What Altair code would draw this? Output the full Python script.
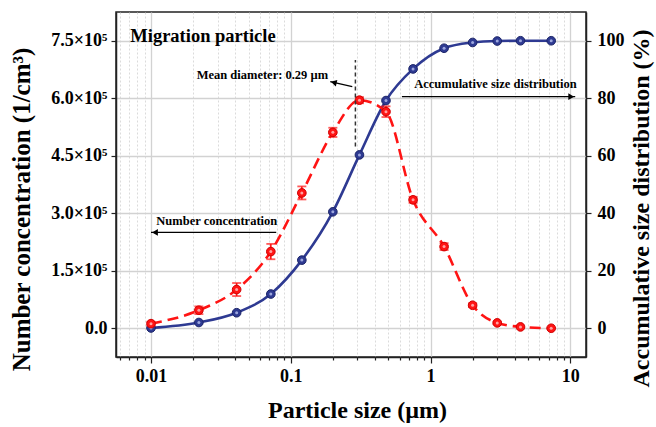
import altair as alt
import pandas as pd

# Particle size bins (µm)
size_um = [0.01, 0.022, 0.041, 0.072, 0.12, 0.20, 0.31, 0.48, 0.75, 1.25, 2.0, 3.0, 4.4, 7.3]
# Number concentration (1/cm^3) and its error
number_conc = [12000, 47000, 101000, 200000, 353000, 511000, 595000, 565000, 335000, 213000, 60000, 14000, 3500, 0]
number_err = [5000, 10000, 17000, 20000, 17000, 12000, 8000, 14000, 8000, 9000, 5000, 3000, 0, 0]
# Accumulative size distribution (%)
cumulative = [0.1, 2.0, 5.4, 11.9, 23.7, 40.5, 60.3, 79.2, 90.2, 97.4, 99.4, 99.9, 100.0, 100.0]

mean_diameter = 0.29

FONT = "Liberation Serif"
RED = "#ff1414"
NAVY = "#2e3a92"

df = pd.DataFrame({
    "size": size_um,
    "conc": number_conc,
    "lo": [c - e for c, e in zip(number_conc, number_err)],
    "hi": [c + e for c, e in zip(number_conc, number_err)],
    "cum": cumulative,
})

x_minor = [m * 10.0 ** e for e in range(-3, 2) for m in range(1, 10)]
x_minor = [v for v in x_minor if 0.0056 <= v <= 12.9]
x_minor = [float(f"{v:.6g}") for v in x_minor]

xs = alt.Scale(type="log", domain=[0.005618, 12.95], nice=False)
yl = alt.Scale(domain=[-75000, 825000], nice=False, zero=False)
yr = alt.Scale(domain=[-10, 110], nice=False, zero=False)

is_decade = "abs(log(datum.value)/LN10 - round(log(datum.value)/LN10)) < 0.001"
is_major_l = "datum.value % 150000 == 0"
is_major_r = "datum.value % 20 == 0"

x_axis = alt.Axis(
    values=x_minor,
    labelExpr=f"{is_decade} ? format(datum.value, '~g') : ''",
    grid=True,
    gridColor="#d2d2d2",
    gridWidth={"condition": {"test": is_decade, "value": 1.3}, "value": 0.8},
    gridDash={"condition": {"test": is_decade, "value": [1, 0]}, "value": [2, 2]},
    tickSize={"condition": {"test": is_decade, "value": 6}, "value": 3},
    tickColor="#222", tickWidth=1.2,
    domainColor="#222", domainWidth=1.5,
    labelFont=FONT, labelFontSize=18, labelFontWeight="bold", labelColor="black",
    labelPadding=4, labelFlush=False,
    title="Particle size (µm)",
    titleFont=FONT, titleFontSize=24, titleFontWeight="bold", titleColor="black",
    titleX=241, titleY=53, titleAlign="center", titleBaseline="middle",
)

yl_axis = alt.Axis(
    values=list(range(0, 750001, 75000)),
    labelExpr=f"datum.value == 0 ? '0.0' : ({is_major_l} ? format(datum.value/1e5, '.1f') + '×10⁵' : '')",
    grid=True,
    gridColor="#d2d2d2",
    gridWidth={"condition": {"test": is_major_l, "value": 1.3}, "value": 0.8},
    gridDash={"condition": {"test": is_major_l, "value": [1, 0]}, "value": [2, 2]},
    tickSize={"condition": {"test": is_major_l, "value": 5}, "value": 3},
    tickColor="#222", tickWidth=1.2,
    domainColor="#222", domainWidth=1.5,
    labelFont=FONT, labelFontSize=18, labelFontWeight="bold", labelColor="black",
    labelPadding=4,
    title="Number concentration (1/cm³)",
    titleFont=FONT, titleFontSize=25, titleFontWeight="bold", titleColor="black",
    titleX=-95, titleY=197, titleAngle=270, titleAlign="center", titleBaseline="middle",
)

yr_axis = alt.Axis(
    orient="right",
    values=list(range(0, 101, 10)),
    labelExpr=f"{is_major_r} ? format(datum.value, 'd') : ''",
    grid=False,
    tickSize={"condition": {"test": is_major_r, "value": 5}, "value": 3},
    tickColor="#222", tickWidth=1.2,
    domainColor="#222", domainWidth=1.5,
    labelFont=FONT, labelFontSize=18, labelFontWeight="bold", labelColor="black",
    labelPadding=6,
    title="Accumulative size distribution (%)",
    titleFont=FONT, titleFontSize=24, titleFontWeight="bold", titleColor="black",
    titleX=55, titleY=196, titleAngle=270, titleAlign="center", titleBaseline="middle",
)

base = alt.Chart(df)

# ---- cumulative distribution (right axis) ----
cum_line = base.mark_line(color=NAVY, strokeWidth=2.6, interpolate="monotone").encode(
    x=alt.X("size:Q", scale=xs, axis=x_axis),
    y=alt.Y("cum:Q", scale=yr, axis=yr_axis),
)
cum_pts = base.mark_point(filled=True, shape="circle", size=75, color=NAVY,
                          stroke="#1b2468", strokeWidth=1, opacity=1).encode(
    x=alt.X("size:Q", scale=xs), y=alt.Y("cum:Q", scale=yr))
cum_glint = base.mark_point(filled=True, shape="circle", size=9, color="#a9b3e6", opacity=0.9).encode(
    x=alt.X("size:Q", scale=xs), y=alt.Y("cum:Q", scale=yr))
right = alt.layer(cum_line, cum_pts, cum_glint)

# ---- number concentration (left axis) ----
conc_line = base.mark_line(color=RED, strokeWidth=2.6, strokeDash=[11, 6], interpolate="monotone").encode(
    x=alt.X("size:Q", scale=xs),
    y=alt.Y("conc:Q", scale=yl, axis=yl_axis),
)
err_df = df[df["hi"] > df["lo"]]
err_rule = alt.Chart(err_df).mark_rule(color=RED, strokeWidth=1.6).encode(
    x=alt.X("size:Q", scale=xs), y=alt.Y("lo:Q", scale=yl), y2="hi:Q")
err_cap_hi = alt.Chart(err_df).mark_tick(color=RED, orient="horizontal", size=9, thickness=1.8).encode(
    x=alt.X("size:Q", scale=xs), y=alt.Y("hi:Q", scale=yl))
err_cap_lo = alt.Chart(err_df).mark_tick(color=RED, orient="horizontal", size=9, thickness=1.8).encode(
    x=alt.X("size:Q", scale=xs), y=alt.Y("lo:Q", scale=yl))
conc_pts = base.mark_point(filled=True, shape="circle", size=75, color=RED,
                           stroke="#d00000", strokeWidth=1, opacity=1).encode(
    x=alt.X("size:Q", scale=xs), y=alt.Y("conc:Q", scale=yl))
conc_glint = base.mark_point(filled=True, shape="circle", size=9, color="#ffb0b0", opacity=0.9).encode(
    x=alt.X("size:Q", scale=xs), y=alt.Y("conc:Q", scale=yl))

# ---- annotations (placed in data units on the left scale) ----
mean_line = alt.Chart(pd.DataFrame({"x": [mean_diameter], "y": [474000], "y2": [700000]})).mark_rule(
    color="#333", strokeWidth=1.5, strokeDash=[4, 3]).encode(
    x=alt.X("x:Q", scale=xs), y=alt.Y("y:Q", scale=yl), y2="y2:Q")

labels_df = pd.DataFrame({
    "x": [0.00711, 0.185, 0.764, 0.01091],
    "y": [763000, 661000, 638000, 278600],
    "text": ["Migration particle", "Mean diameter: 0.29 µm", "Accumulative size distribution", "Number concentration"],
    "fs": [18.5, 12.5, 12.5, 12.5],
    "align": ["left", "right", "left", "left"],
})
texts = []
for _, r in labels_df.iterrows():
    texts.append(
        alt.Chart(pd.DataFrame([r])).mark_text(
            font=FONT, fontWeight="bold", fontSize=float(r["fs"]), color="black",
            align=r["align"], baseline="middle",
        ).encode(x=alt.X("x:Q", scale=xs), y=alt.Y("y:Q", scale=yl), text="text:N")
    )

arrows_df = pd.DataFrame({
    "x": [0.2754, 0.624, 0.0787],
    "x2": [0.1916, 10.84, 0.0100],
    "y": [630200, 604000, 250000],
    "y2": [643200, 604000, 250000],
})
arrow_shafts = alt.Chart(arrows_df).mark_rule(color="black", strokeWidth=1.3).encode(
    x=alt.X("x:Q", scale=xs), x2="x2:Q", y=alt.Y("y:Q", scale=yl), y2="y2:Q")

heads_df = pd.DataFrame({
    "x": [0.203, 10.15, 0.01068],
    "y": [641100, 604000, 250000],
    "shape": ["triangle-left", "triangle-right", "triangle-left"],
    "angle": [13, 0, 0],
})
arrow_heads = alt.Chart(heads_df).mark_point(filled=True, color="black", size=45, opacity=1).encode(
    x=alt.X("x:Q", scale=xs), y=alt.Y("y:Q", scale=yl),
    shape=alt.Shape("shape:N", scale=None),
    angle=alt.Angle("angle:Q", scale=None),
)

left = alt.layer(conc_line, err_rule, err_cap_hi, err_cap_lo, conc_pts, conc_glint,
                 mean_line, arrow_shafts, arrow_heads, *texts)

chart = alt.layer(right, left).resolve_scale(y="independent").properties(
    width=470, height=345,
    autosize=alt.AutoSizeParams(type="none"),
    padding={"left": 116, "top": 12, "right": 70, "bottom": 70},
    background="white",
).configure_view(stroke="#222", strokeWidth=1.5)

chart.save("out.html", embed_options={"renderer": "svg", "actions": False})
